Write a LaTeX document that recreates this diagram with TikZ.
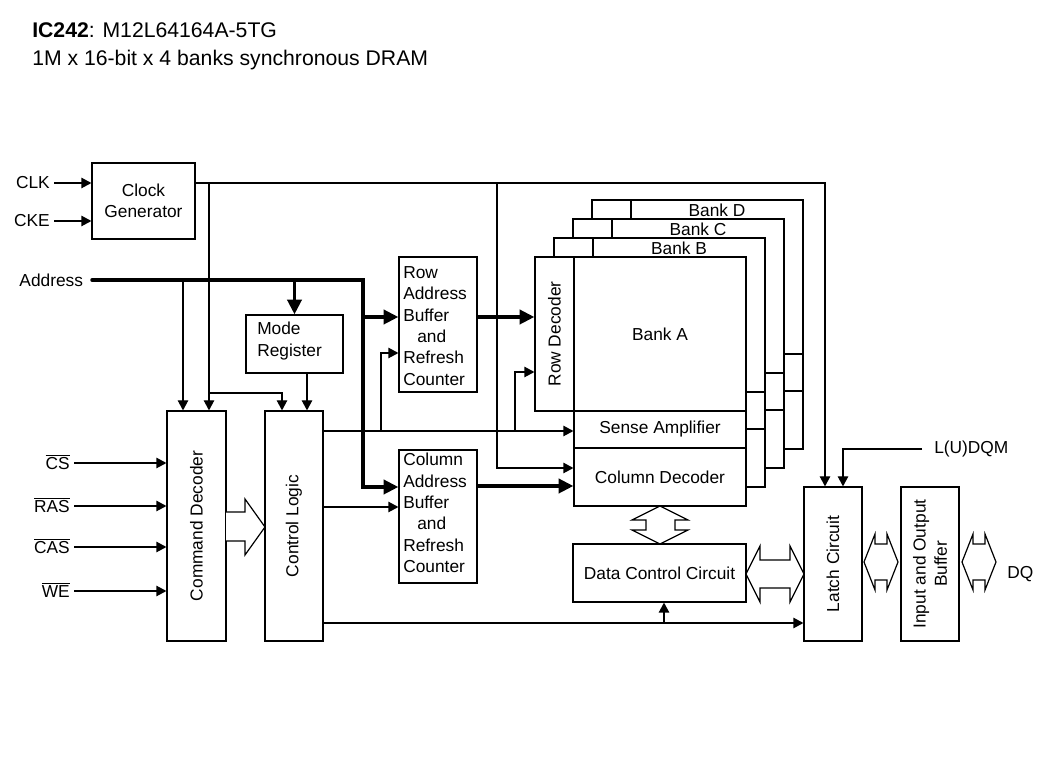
\documentclass[tikz,border=0pt]{standalone}
\usepackage{fontspec}
\setmainfont{Liberation Sans}
\usetikzlibrary{arrows.meta,fit,calc}
\begin{document}
\begin{tikzpicture}[x=0.75pt,y=-0.75pt,
  font=\fontsize{13}{16}\selectfont,
  box/.style={draw, line width=0.9pt, inner sep=0pt, fill=white},
  wire/.style={line width=0.9pt},
  arr/.style={wire, -{Triangle[length=7.5pt,width=7.8pt]}},
  bus/.style={line width=2.6pt},
  busarr/.style={bus, -{Triangle[length=11pt,width=10.5pt]}},
  lbl/.style={inner ysep=1pt, inner xsep=3pt},
  txt/.style={inner sep=0pt},
  blk/.style={wire, fill=white, line join=miter}]
\useasboundingbox (0,0) rectangle (1047,780);

% title
\node[anchor=base west, inner sep=0, font=\fontsize{15.9}{18}\selectfont] (t1) at (32,38) {\textbf{IC242}: M12L64164A-5TG};
\node[anchor=base west, inner sep=0, font=\fontsize{15.9}{18}\selectfont] (t2) at (32,66) {1M x 16-bit x 4 banks synchronous DRAM};

% boxes
\node[box, fit={(92,163) (195,239)}] (clk) {};
\node[txt, align=center] (clkt) at (clk.center) {Clock\\Generator};
\node[box, fit={(246,315) (343,373)}] (mode) {};
\node[anchor=west, align=left, txt] (modet) at (257,341) {Mode\\Register};
\node[box, fit={(167,411) (226,641)}] (cmd) {};
\node[rotate=90, txt] (cmdt) at (cmd.center) {Command Decoder};
\node[box, fit={(265,411) (323,641)}] (ctl) {};
\node[rotate=90, txt] (ctlt) at (ctl.center) {Control Logic};
\node[box, fit={(399,257) (477,392)}] (rowbuf) {};
\node[anchor=west, align=left, txt] (rowbuft) at (403,326) {Row\\Address\\Buffer\\\hspace*{10.5pt}and\\Refresh\\Counter};
\node[box, fit={(399,450) (477,583)}] (colbuf) {};
\node[anchor=west, align=left, txt] (colbuft) at (403,513) {Column\\Address\\Buffer\\\hspace*{10.5pt}and\\Refresh\\Counter};

% banks D, C, B
\foreach \k/\lab in {3/D,2/C,1/B}{
  \begin{scope}[shift={(19*\k,-19*\k)}]
    \draw[wire, fill=white] (535,257) -- (746,257) -- (746,506) -- (574,506) -- (574,411) -- (535,411) -- cycle;
    \draw[wire] (574,257) -- (574,411) -- (746,411);
    \draw[wire] (574,448) -- (746,448);
    \node[txt] (bank\lab) at (660,267) {Bank \lab};
  \end{scope}
}
% bank A
\node[box, fit={(535,257) (574,411)}] (rowdec) {};
\node[rotate=90, txt] (rowdect) at (rowdec.center) {Row Decoder};
\node[box, fit={(574,257) (746,411)}] (bankA) {};
\node[txt] (bankAt) at (bankA.center) {Bank A};
\node[box, fit={(574,411) (746,448)}] (sense) {};
\node[txt] (senset) at (sense.center) {Sense Amplifier};
\node[box, fit={(574,448) (746,506)}] (coldec) {};
\node[txt] (coldect) at (coldec.center) {Column Decoder};
\node[box, fit={(573,544) (746,602)}] (datactl) {};
\node[txt] (datactlt) at (datactl.center) {Data Control Circuit};
\node[box, fit={(804,487) (862,641)}] (latch) {};
\node[rotate=90, txt] (latcht) at (latch.center) {Latch Circuit};
\node[box, fit={(901,487) (959,641)}] (iobuf) {};
\node[rotate=90, align=center, txt] (iobuft) at (iobuf.center) {Input and Output\\Buffer};

% labels
\node[lbl, anchor=east] (lclk) at (54,183) {CLK};
\node[lbl, anchor=east] (lcke) at (54,221) {CKE};
\node[anchor=east, inner ysep=1pt, inner xsep=6.5pt] (laddr) at (92,280) {Address};
\node[lbl, anchor=east] (lcs) at (74,462) {$\overline{\hbox{CS}}$};
\node[lbl, anchor=east] (lras) at (74,505) {$\overline{\hbox{RAS}}$};
\node[lbl, anchor=east] (lcas) at (74,546) {$\overline{\hbox{CAS}}$};
\node[lbl, anchor=east] (lwe) at (74,590) {$\overline{\hbox{WE}}$};
\node[anchor=west, inner xsep=9pt, inner ysep=1pt] (ldqm) at (922,449) {L(U)DQM};
\node[anchor=west, inner sep=0pt] (dq) at (1007,574) {DQ};

% junction coordinates
\coordinate (ja) at (363,280);
\coordinate (jb) at (363,317);
\coordinate (jc) at (209,183);
\coordinate (jd) at (209,393);
\coordinate (je) at (497,183);
\coordinate (jf) at (381,431);
\coordinate (jg) at (515,431);
\coordinate (jh) at (664,623);

% clock
\draw[arr] (lclk.east) -- (clk.west |- lclk);
\draw[arr] (lcke.east) -- (clk.west |- lcke);
\draw[arr] (clk.east |- lclk) -| (latch.north -| 825,0);
\draw[arr] (jc) -- (cmd.north -| jc);
\draw[arr] (jd) -| (ctl.north -| 282,0);
\draw[arr] (je) |- (coldec.west |- 0,468);

% address
\draw[busarr, line cap=round] (laddr.east) -- (ja) |- (colbuf.west |- 0,487);
\draw[busarr] (jb) -- (rowbuf.west |- jb);
\draw[busarr] (mode.north |- laddr) -- (mode.north);
\draw[arr] (183,280) -- (cmd.north -| 183,0);
\draw[arr] (mode.south -| 307,0) -- (ctl.north -| 307,0);
\draw[busarr] (rowbuf.east |- 0,317) -- (rowdec.west |- 0,317);
\draw[busarr] (colbuf.east |- 0,486) -- (coldec.west |- 0,486);

% control logic outputs
\draw[arr] (ctl.east |- jf) -- (sense.west |- jf);
\draw[arr] (jf) |- (rowbuf.west |- 0,353);
\draw[arr] (jg) |- (rowdec.west |- 0,372);
\draw[arr] (ctl.east |- 0,507) -- (colbuf.west |- 0,507);
\draw[arr] (ctl.east |- jh) -- (latch.west |- jh);
\draw[arr] (jh) -- (datactl.south -| jh);

% command inputs
\draw[arr] (74,463) -- (cmd.west |- 0,463);
\draw[arr] (74,506) -- (cmd.west |- 0,506);
\draw[arr] (74,547) -- (cmd.west |- 0,547);
\draw[arr] (74,591) -- (cmd.west |- 0,591);

% DQM
\draw[arr] (ldqm.west) -| (latch.north -| 843,0);

% block arrows
\draw[blk] (226,512) -- (245,512) -- (245,499) -- (265,527) -- (245,555) -- (245,541) -- (226,541);
\draw[blk] (660,506) -- (688,520) -- (675,520) -- (675,530) -- (688,530) -- (660,544) -- (632,530) -- (646,530) -- (646,520) -- (632,520) -- cycle;
\draw[blk] (746,574) -- (760,546) -- (760,560) -- (790,560) -- (790,546) -- (804,574) -- (790,602) -- (790,588) -- (760,588) -- (760,602) -- cycle;
\draw[blk] (864,562) -- (875,534) -- (875,544) -- (887,544) -- (887,534) -- (898,562) -- (887,590) -- (887,580) -- (875,580) -- (875,590) -- cycle;
\draw[blk] (962,562) -- (973,534) -- (973,544) -- (985,544) -- (985,534) -- (996,562) -- (985,590) -- (985,580) -- (973,580) -- (973,590) -- cycle;
\end{tikzpicture}
\end{document}
